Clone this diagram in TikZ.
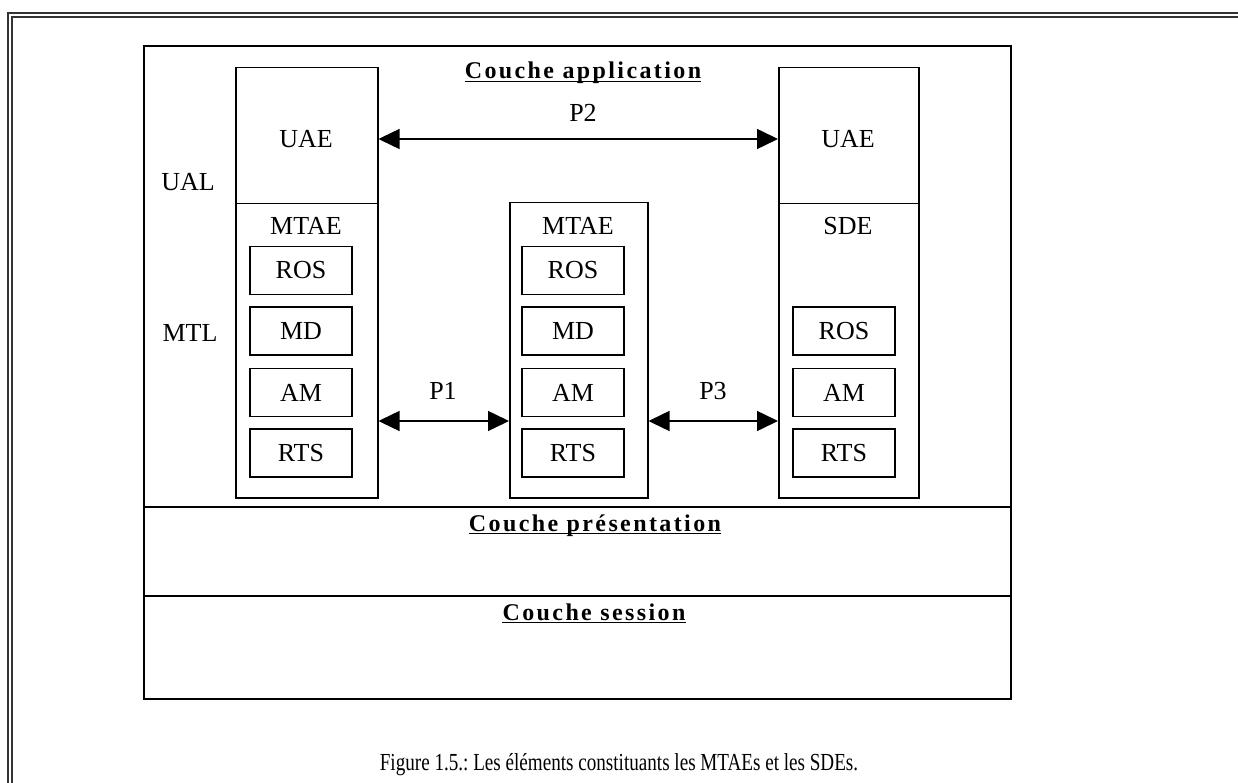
\documentclass[tikz,border=0pt]{standalone}
\usepackage{fontspec}
\setmainfont{Liberation Serif}
\newfontfamily\headfont[LetterSpace=10]{Liberation Serif}
\usetikzlibrary{arrows.meta}
\frenchspacing
\begin{document}
\begin{tikzpicture}[x=1pt,y=-1pt,
  every node/.style={font=\fontsize{26}{30}\selectfont},
  box/.style={draw, line width=1.5pt, inner sep=0pt, anchor=north west},
  layer/.style={box, line width=1.8pt},
  sub/.style={draw, line width=1.5pt, minimum width=102pt, minimum height=48pt, inner sep=0pt},
  head/.style={font=\headfont\bfseries\fontsize{24}{28}\selectfont, inner sep=0pt, anchor=base},
  txt/.style={inner sep=0pt},
  tip/.tip={Triangle[length=21pt,width=20pt]},
  both/.style={tip-tip, line width=1.5pt},
  rule/.style={line width=1.5pt},
  outer/.style={line width=2pt, draw=black!80},
]
\useasboundingbox (0,0) rectangle (1238,783);

% double page frame
\draw[outer] (7.5,783) -- (7.5,13.5) -- (1238,13.5);
\draw[outer] (12,783) -- (12,17.5) -- (1238,17.5);

% layers
\node[layer, minimum width=867pt, minimum height=461pt] (app) at (143,45) {};
\node[layer, minimum width=867pt, minimum height=89pt] (pres) at (143,506) {};
\node[layer, minimum width=867pt, minimum height=103pt] (sess) at (143,595) {};

\node[head] (happ) at (583,79) {Couche application};
\node[head] (hpres) at (595,531) {Couche présentation};
\node[head] (hsess) at (594,620) {Couche session};
\foreach \h in {happ,hpres,hsess}
  \draw[rule] ([yshift=-2.5pt]\h.base west) -- ([yshift=-2.5pt]\h.base east);

% columns
\node[box, minimum width=142pt, minimum height=136pt] (uaeL) at (235,67) {};
\node[box, minimum width=142pt, minimum height=294pt] (mtaeL) at (235,203) {};
\node[box, minimum width=138pt, minimum height=295pt] (mtaeM) at (509,202) {};
\node[box, minimum width=140pt, minimum height=136pt] (uaeR) at (778,67) {};
\node[box, minimum width=140pt, minimum height=294pt] (sdeR) at (778,203) {};

% column labels
\node[txt] (tUaeL) at (306,139) {UAE};
\node[txt] (tUaeR) at (848,139) {UAE};
\node[txt] (tMtaeL) at (306,226) {MTAE};
\node[txt] (tMtaeM) at (578,226) {MTAE};
\node[txt] (tSde) at (848,226) {SDE};
\node[txt] (ual) at (188,182) {UAL};
\node[txt] (mtl) at (190,333) {MTL};

% sub-elements
\node[sub] (rosL) at (301,270.5) {ROS};
\node[sub] (mdL)  at (301,331) {MD};
\node[sub] (amL)  at (301,392.5) {AM};
\node[sub] (rtsL) at (301,453) {RTS};
\node[sub] (rosM) at (573,270.5) {ROS};
\node[sub] (mdM)  at (573,331) {MD};
\node[sub] (amM)  at (573,392.5) {AM};
\node[sub] (rtsM) at (573,453) {RTS};
\node[sub] (rosR) at (844,331) {ROS};
\node[sub] (amR)  at (844,392.5) {AM};
\node[sub] (rtsR) at (844,453) {RTS};

% protocols
\coordinate (p2) at (0,139);
\coordinate (p13) at (0,421);
\draw[both] (uaeL.east |- p2) -- (uaeR.west |- p2);
\draw[both] (mtaeL.east |- p13) -- (mtaeM.west |- p13);
\draw[both] (mtaeM.east |- p13) -- (sdeR.west |- p13);
\node[txt] (lp2) at (583,113) {P2};
\node[txt] (lp1) at (443,391) {P1};
\node[txt] (lp3) at (713,391) {P3};

% caption, set in a condensed face
\node[txt, font=\fontsize{24.5}{28}\selectfont, xscale=0.78] (cap) at (619,765)
  {Figure 1.5.: Les éléments constituants les MTAEs et les SDEs.};
\end{tikzpicture}
\end{document}
